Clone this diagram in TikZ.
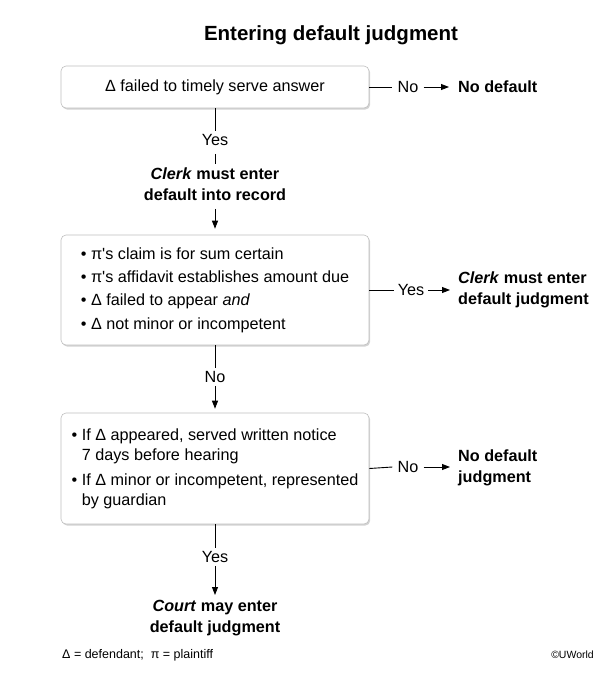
\documentclass[tikz,border=0pt]{standalone}
\usepackage{fontspec}
\setmainfont{Liberation Sans}
\usetikzlibrary{shadows,arrows.meta}
\begin{document}
\begin{tikzpicture}[x=1pt,y=-1pt,
  txt/.style={font=\fontsize{16.2pt}{20pt}\selectfont},
  boxnode/.style={draw=gray!50, line width=0.6pt, fill=white, rounded corners=5pt,
    minimum width=308pt, align=left, inner sep=0pt, txt,
    drop shadow={shadow xshift=1.2pt, shadow yshift=-1.6pt, opacity=0.35}},
  lab/.style={txt, inner xsep=5pt, inner ysep=3pt},
  res/.style={font=\fontsize{16.2pt}{20.5pt}\selectfont\bfseries, inner sep=0pt},
  conn/.style={line width=0.9pt},
  arr/.style={conn, -{Triangle[length=8pt,width=6pt]}}
]
\useasboundingbox (0,0) rectangle (601,673);

% title
\node[font=\fontsize{20.5pt}{24pt}\selectfont\bfseries, inner sep=0pt] (title) at (331,35) {Entering default judgment};

% box 1
\node[boxnode, minimum height=42pt, align=center] (b1) at (215,87) {Δ failed to timely serve answer};
\node[lab] (no1) at (408,87) {No};
\node[res, anchor=west] (nd1) at (458,87) {No default};
\draw[conn] (b1.east) -- (no1.west);
\draw[arr, shorten >=9pt] (no1.east) -- (nd1.west);

\node[lab, inner ysep=3pt] (yes1) at (215,140) {Yes};
\node[res, align=center, anchor=north] (clk1) at (215,168) {\textit{Clerk} must enter\\default into record};
\draw[conn] (b1.south) -- (yes1.north);
\draw[conn, shorten <=5pt, shorten >=4pt] (yes1.south) -- (clk1.north);

% box 2
\node[boxnode, minimum height=110pt] (b2) at (215,290)
  {• π\textquotesingle s claim is for sum certain\\[3.3pt]
   • π\textquotesingle s affidavit establishes amount due\\[3.3pt]
   • Δ failed to appear \textit{and}\\[3.3pt]
   • Δ not minor or incompetent};
\draw[arr, shorten <=8pt, shorten >=6pt] (clk1.south) -- (b2.north);

\node[lab, inner xsep=4pt] (yes2) at (411,290) {Yes};
\node[res, anchor=west, align=left] (clk2) at (458,290) {\textit{Clerk} must enter\\default judgment};
\draw[conn] (b2.east) -- (yes2.west);
\draw[arr, shorten >=8pt] (yes2.east) -- (clk2.west |- yes2.east);

\node[lab] (no2) at (215,377) {No};
\draw[conn] (b2.south) -- (no2.north);

% box 3
\node[boxnode, minimum height=111pt] (b3) at (215,468.5)
  {• If Δ appeared, served written notice\\
   \hphantom{•\ }7 days before hearing\\[5pt]
   • If Δ minor or incompetent, represented\\
   \hphantom{•\ }by guardian};
\draw[arr, shorten >=4pt] (no2.south) -- (b3.north);

\node[lab] (no3) at (408,467) {No};
\node[res, anchor=west, align=left, font=\fontsize{16.2pt}{21pt}\selectfont\bfseries] (nd3) at (458,467.5) {No default\\judgment};
\draw[conn] (b3.east) -- (no3.west);
\draw[arr, shorten >=8pt] (no3.east) -- (nd3.west |- no3.east);

\node[lab] (yes3) at (215,557) {Yes};
\node[res, align=center, anchor=north] (court) at (215,600) {\textit{Court} may enter\\default judgment};
\draw[conn] (b3.south) -- (yes3.north);
\draw[arr, shorten >=5pt] (yes3.south) -- (court.north);

% footer
\node[font=\fontsize{12.5pt}{15pt}\selectfont, anchor=base west, inner sep=0pt] (legend) at (62,658) {Δ = defendant;\ \ π = plaintiff};
\node[font=\fontsize{10.5pt}{13pt}\selectfont, anchor=base east, inner sep=0pt] (copy) at (594,658) {©UWorld};
\end{tikzpicture}
\end{document}
